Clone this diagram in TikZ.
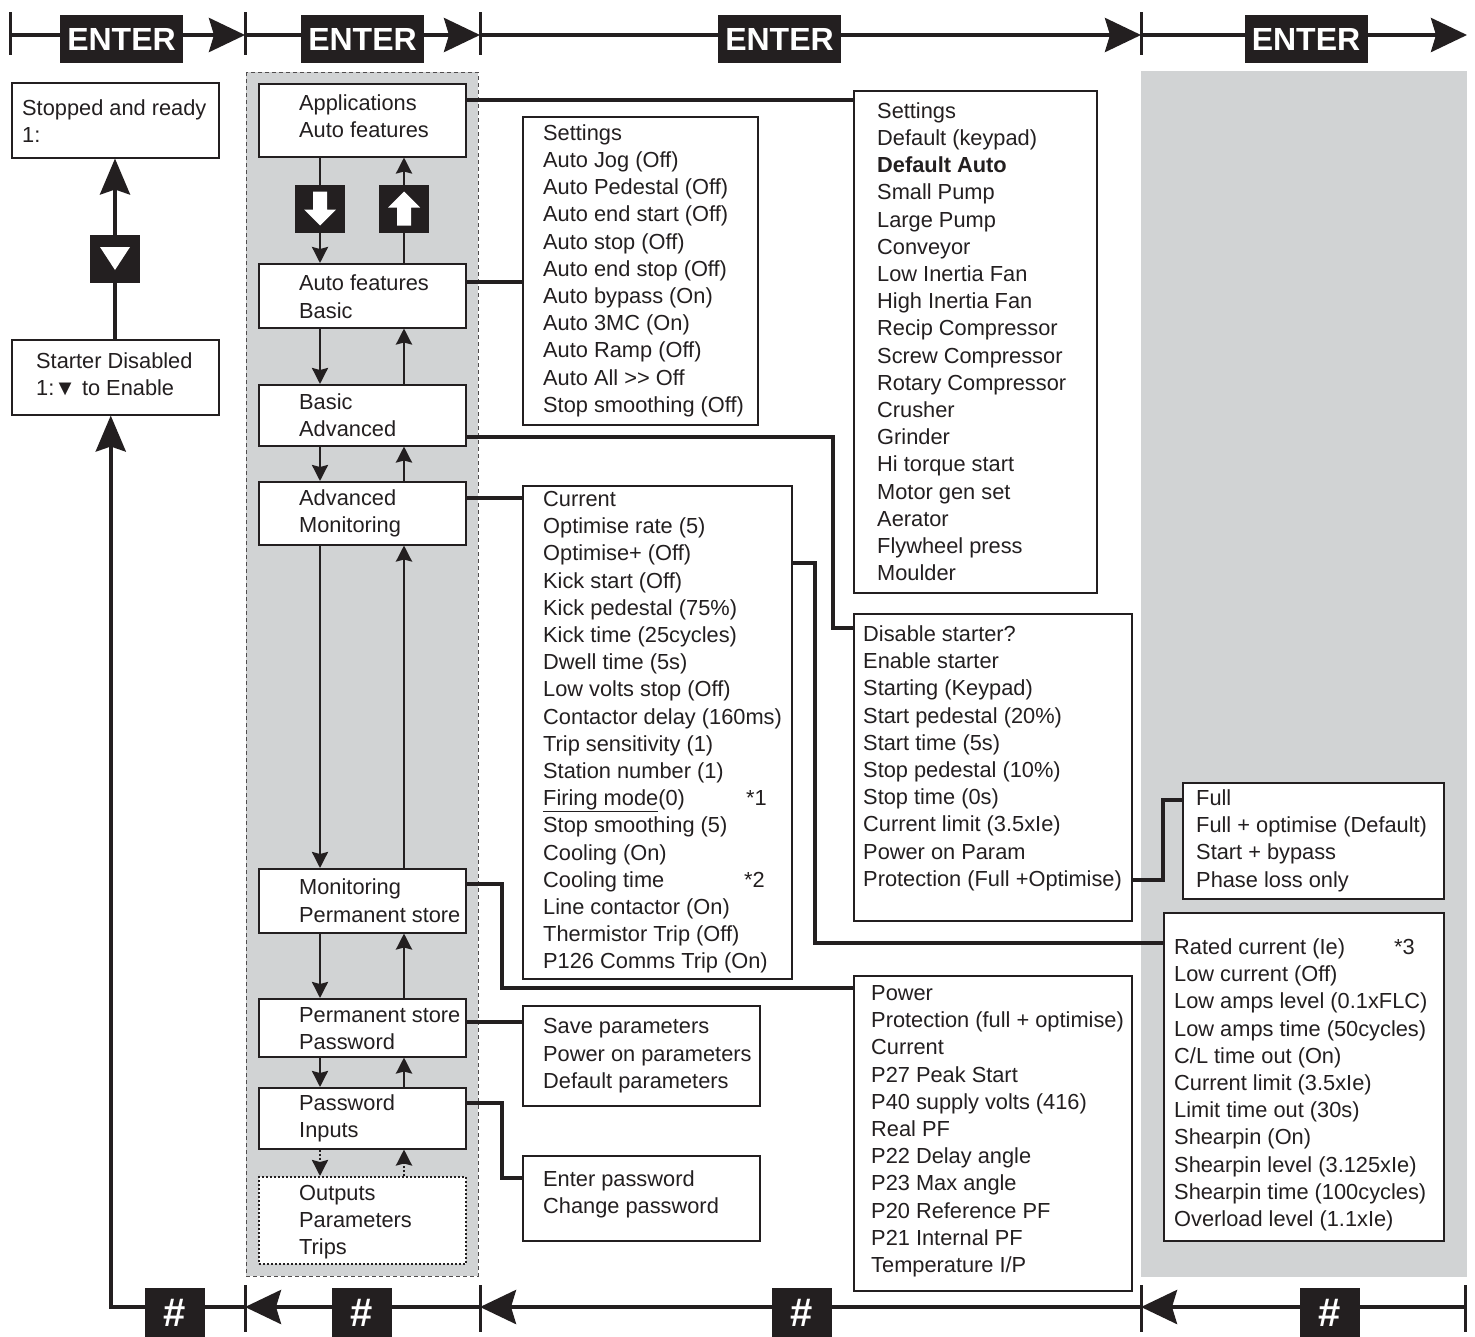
\documentclass[tikz,border=0pt]{standalone}
\usepackage{fontspec}
\setmainfont{Liberation Sans}
\usetikzlibrary{arrows.meta, positioning, calc}
\definecolor{inkblack}{RGB}{35,31,32}
\definecolor{panelgray}{RGB}{209,211,212}
\newcommand{\menufont}{\fontsize{21.8}{27.2}\selectfont}

\begin{document}
\begin{tikzpicture}[x=1pt, y=-1pt,
  frame/.style={draw=inkblack, line width=1.5pt, fill=white, inner sep=0pt, anchor=north west},
  listtext/.style={font=\menufont, align=left, inner sep=0pt, text=inkblack, anchor=west},
  link/.style={draw=inkblack, line width=4pt},
  barline/.style={draw=inkblack, line width=4pt},
  tickline/.style={draw=inkblack, line width=3pt},
  bigtip/.style={-{Stealth[length=36pt, width=34pt, inset=5pt]}},
  uptip/.style={-{Stealth[length=36pt, width=30pt, inset=5pt]}},
  navarrow/.style={draw=inkblack, line width=2.6pt, -{Stealth[length=16pt, width=16pt, inset=2pt]}},
  keybox/.style={fill=inkblack, minimum width=50, minimum height=48, inner sep=0pt},
  enterbox/.style={fill=inkblack, text=white, font=\fontsize{32}{32}\selectfont\bfseries,
    minimum width=123, minimum height=48, inner sep=0pt},
  hashbox/.style={fill=inkblack, minimum width=60, minimum height=58, inner sep=0pt},
  hashtext/.style={text=white, font=\fontsize{40}{40}\selectfont\bfseries, inner sep=0pt},
]
\useasboundingbox (0,0) rectangle (1475,1336);

% gray panels
\draw[fill=panelgray, draw=inkblack!80, line width=1pt, dash pattern=on 4pt off 3pt]
  (246,72) rectangle (478,1276);
\fill[panelgray] (1141,71) rectangle (1467,1277);

% top bar: ENTER
\coordinate (tt0) at (10,35);
\coordinate (tt1) at (245,35);
\coordinate (tt2) at (480,35);
\coordinate (tt3) at (1141,35);
\coordinate (tt4) at (1467,35);
\foreach \c in {tt0,tt1,tt2,tt3}
  \draw[tickline] (\c) ++(0,-23) -- ++(0,43);
\draw[barline, bigtip] (tt0) -- (tt1);
\draw[barline, bigtip] (tt1) -- (tt2);
\draw[barline, bigtip] (tt2) -- (tt3);
\draw[barline, bigtip] (tt3) -- (tt4);
\node[enterbox] (ent1) at (121.5,39) {ENTER};
\node[enterbox] (ent2) at (362.5,39) {ENTER};
\node[enterbox] (ent3) at (779.5,39) {ENTER};
\node[enterbox] (ent4) at (1306,39) {ENTER};

% left column
\node[frame, minimum width=207, minimum height=75] (sr) at (11,82) {};
\node[listtext] (sr-t) at ([xshift=11pt, yshift=-1pt]sr.west) {Stopped and ready\\1:};
\node[frame, minimum width=207, minimum height=75] (sd) at (11,339) {};
\node[listtext] (sd-t) at ([xshift=25pt, yshift=3pt]sd.west) {Starter Disabled\\1:▼ to Enable};
\coordinate (lx) at (115,0);
\draw[barline, uptip] (sd.north -| lx) -- (sr.south -| lx);
\node[keybox] (kl) at (115,258.5) {};
\fill[white, shift={(kl.center)}] (-15,-11.5) -- (15,-11.5) -- (0,11.5) -- cycle;

% menu column
\foreach \n/\y/\h/\s/\t in {
    app/83/73/4/{Applications\\Auto features},
    af/263/64/-1/{Auto features\\Basic},
    ba/384/61/0/{Basic\\Advanced},
    am/481/63/0/{Advanced\\Monitoring},
    mp/868/64/0/{Monitoring\\Permanent store},
    pp/998/58/-1/{Permanent store\\Password},
    pi/1087/61/0/{Password\\Inputs}} {
  \node[frame, minimum width=207, minimum height=\h] (\n) at (258,\y) {};
  \node[listtext] (\n-t) at ([xshift=41pt, yshift=\s pt]\n.west) {\t};
}
\node[frame, dash pattern=on 2pt off 2pt, minimum width=207, minimum height=87] (opt) at (258,1176) {};
\node[listtext] (opt-t) at ([xshift=41pt, yshift=-2pt]opt.west) {Outputs\\Parameters\\Trips};

\coordinate (dn) at (320,0);
\coordinate (up) at (404,0);
\foreach \a/\b in {app/af, af/ba, ba/am, am/mp, mp/pp, pp/pi} {
  \draw[navarrow] (\a.south -| dn) -- (\b.north -| dn);
  \draw[navarrow] (\b.north -| up) -- (\a.south -| up);
}
\draw[navarrow, dash pattern=on 2pt off 2pt] (pi.south -| dn) -- (opt.north -| dn);
\draw[navarrow, dash pattern=on 2pt off 2pt] (opt.north -| up) -- (pi.south -| up);
\node[keybox] (kd) at (320,208.5) {};
\node[keybox] (ku) at (404,208.5) {};
\fill[white, shift={(kd.center)}] (-7,-17) -- (7,-17) -- (7,1) -- (16,1) -- (0,17) -- (-16,1) -- (-7,1) -- cycle;
\fill[white, shift={(ku.center)}] (-7,17) -- (7,17) -- (7,-1) -- (16,-1) -- (0,-17) -- (-16,-1) -- (-7,-1) -- cycle;

% parameter lists
\node[frame, minimum width=235, minimum height=308] (seta) at (522,116) {};
\node[listtext] (seta-t) at ([xshift=21pt]seta.west) {Settings\\Auto Jog (Off)\\Auto Pedestal (Off)\\
  Auto end start (Off)\\Auto stop (Off)\\Auto end stop (Off)\\Auto bypass (On)\\Auto 3MC (On)\\
  Auto Ramp (Off)\\Auto All >{}> Off\\Stop smoothing (Off)};

\node[frame, minimum width=243, minimum height=502] (setp) at (853,90) {};
\node[listtext] (setp-t) at ([xshift=24pt]setp.west) {Settings\\Default (keypad)\\\textbf{Default Auto}\\
  Small Pump\\Large Pump\\Conveyor\\Low Inertia Fan\\High Inertia Fan\\Recip Compressor\\
  Screw Compressor\\Rotary Compressor\\Crusher\\Grinder\\Hi torque start\\Motor gen set\\
  Aerator\\Flywheel press\\Moulder};

\node[frame, minimum width=269, minimum height=493] (cur) at (522,485) {};
\node[listtext] (cur-t) at ([xshift=21pt]cur.west) {Current\\Optimise rate (5)\\Optimise+ (Off)\\
  Kick start (Off)\\Kick pedestal (75\%)\\Kick time (25cycles)\\Dwell time (5s)\\
  Low volts stop (Off)\\Contactor delay (160ms)\\Trip sensitivity (1)\\Station number (1)\\
  \makebox[203pt][l]{\underline{Firing mode}(0)}*1\\Stop smoothing (5)\\Cooling (On)\\
  \makebox[201pt][l]{Cooling time}*2\\Line contactor (On)\\Thermistor Trip (Off)\\
  P126 Comms Trip (On)};

\node[frame, minimum width=278, minimum height=307] (dis) at (853,613) {};
\node[listtext] (dis-t) at ([xshift=10pt, yshift=9pt]dis.west) {Disable starter?\\Enable starter\\
  Starting (Keypad)\\Start pedestal (20\%)\\Start time (5s)\\Stop pedestal (10\%)\\
  Stop time (0s)\\Current limit (3.5xIe)\\Power on Param\\Protection (Full +Optimise)};

\node[frame, minimum width=278, minimum height=315] (pow) at (853,975) {};
\node[listtext] (pow-t) at ([xshift=18pt, yshift=2pt]pow.west) {Power\\Protection (full + optimise)\\
  Current\\P27 Peak Start\\P40 supply volts (416)\\Real PF\\P22 Delay angle\\P23 Max angle\\
  P20 Reference PF\\P21 Internal PF\\Temperature I/P};

\node[frame, minimum width=237, minimum height=100] (sav) at (522,1005) {};
\node[listtext] (sav-t) at ([xshift=21pt]sav.west) {Save parameters\\Power on parameters\\Default parameters};

\node[frame, minimum width=237, minimum height=85] (pwd) at (522,1155) {};
\node[listtext] (pwd-t) at ([xshift=21pt, yshift=4pt]pwd.west) {Enter password\\Change password};

\node[frame, minimum width=261, minimum height=116] (full) at (1182,782) {};
\node[listtext] (full-t) at ([xshift=14pt]full.west) {Full\\Full + optimise (Default)\\
  Start + bypass\\Phase loss only};

\node[frame, minimum width=280, minimum height=328] (rat) at (1163,912) {};
\node[listtext] (rat-t) at ([xshift=11pt, yshift=-8pt]rat.west) {\makebox[220pt][l]{Rated current (Ie)}*3\\
  Low current (Off)\\Low amps level (0.1xFLC)\\Low amps time (50cycles)\\C/L time out (On)\\
  Current limit (3.5xIe)\\Limit time out (30s)\\Shearpin (On)\\Shearpin level (3.125xIe)\\
  Shearpin time (100cycles)\\Overload level (1.1xIe)};

% links from menu to lists
\draw[link] (app.east |- 0,100) -- (setp.west |- 0,100);
\draw[link] (af.east |- 0,282) -- (seta.west |- 0,282);
\draw[link] (ba.east |- 0,437) -| (833,628) -- (dis.west |- 0,628);
\draw[link] (am.east |- 0,498) -- (cur.west |- 0,498);
\draw[link] (cur.east |- 0,563) -| (815,943) -- (rat.west |- 0,943);
\draw[link] (mp.east |- 0,884) -| (502,988) -- (pow.west |- 0,988);
\draw[link] (pp.east |- 0,1022) -- (sav.west |- 0,1022);
\draw[link] (pi.east |- 0,1103) -| (502,1178) -- (pwd.west |- 0,1178);
\draw[link] (dis.east |- 0,880) -| (1163,800) -- (full.west |- 0,800);

% bottom bar: #
\coordinate (bt1) at (245,1307);
\coordinate (bt2) at (480,1307);
\coordinate (bt3) at (1141,1307);
\coordinate (bt4) at (1465,1307);
\foreach \c in {bt1,bt2,bt3,bt4}
  \draw[tickline] (\c) ++(0,-22) -- ++(0,47);
\draw[barline, bigtip] (bt2) -- (bt1);
\draw[barline, bigtip] (bt3) -- (bt2);
\draw[barline, bigtip] (bt4) -- (bt3);
\draw[barline, uptip] (bt1) -| ([xshift=-4.5pt]sd.south);
\foreach \n/\x in {1/175, 2/362, 3/802, 4/1330} {
  \node[hashbox] (hash\n) at (\x,1317) {};
  \node[hashtext] (hash\n-t) at (\x,1313) {\#};
}

\end{tikzpicture}
\end{document}
